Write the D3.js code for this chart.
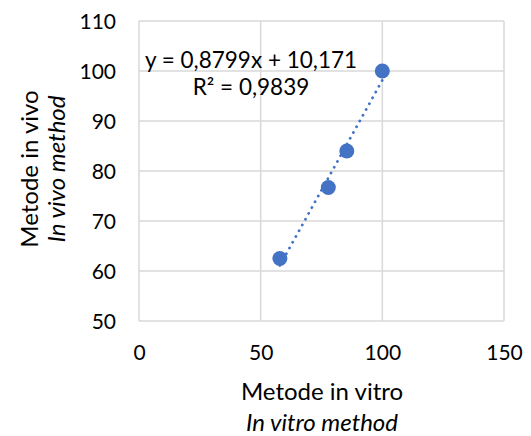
<!DOCTYPE html>
<html>
<head>
<meta charset="utf-8">
<script src="https://cdn.jsdelivr.net/npm/d3@7"></script>
<style>
    html, body { margin: 0; padding: 0; background: #fff; }
    svg text { font-family: Lato, "Open Sans", sans-serif; fill: #000; }
</style>
</head>
<body>
<svg id="chart" width="531" height="436"></svg>
<script>

// in vitro vs in vivo values
var inVitro = [57.9, 77.8, 85.4, 100];
var inVivo = [62.5, 76.7, 84, 100];

var xTicks = [0, 50, 100, 150];
var yTicks = [50, 60, 70, 80, 90, 100, 110];

var slope = 0.8799;
var intercept = 10.171;
var eqLines = ['y = 0,8799x + 10,171', 'R\u00b2 = 0,9839'];

var xTitle = ['Metode in vitro', 'In vitro method'];
var yTitle = ['Metode in vivo', 'In vivo method'];


(function () {

    var svg = d3.select('#chart');

    var left = 139, right = 504, top = 21, bottom = 321;

    var x = d3.scaleLinear().domain([0, 150]).range([left, right]);
    var y = d3.scaleLinear().domain([50, 110]).range([bottom, top]);

    var grid = svg.append('g');

    // vertical grid
    grid.selectAll('.vg')
        .data(xTicks)
        .enter()
        .append('line')
        .attr('x1', function (d) { return x(d); })
        .attr('x2', function (d) { return x(d); })
        .attr('y1', top)
        .attr('y2', bottom)
        .attr('stroke', '#d9d9d9')
        .attr('stroke-width', 1.5);

    // horizontal grid
    grid.selectAll('.hg')
        .data(yTicks)
        .enter()
        .append('line')
        .attr('x1', left)
        .attr('x2', right)
        .attr('y1', function (d) { return y(d); })
        .attr('y2', function (d) { return y(d); })
        .attr('stroke', '#d9d9d9')
        .attr('stroke-width', 1.5);

    // tick labels
    var xAxis = d3.axisBottom(x).tickValues(xTicks).tickSize(0).tickPadding(0);
    var gx = svg.append('g')
        .attr('transform', 'translate(0,' + 360 + ')')
        .call(xAxis);
    gx.select('.domain').remove();
    gx.selectAll('text')
        .attr('dy', 0)
        .attr('y', 0)
        .style('font-size', '21px')
        .style('font-family', 'Lato, sans-serif');

    var yAxis = d3.axisLeft(y).tickValues(yTicks).tickSize(0).tickPadding(0);
    var gy = svg.append('g')
        .attr('transform', 'translate(116,0)')
        .call(yAxis);
    gy.select('.domain').remove();
    gy.selectAll('text')
        .attr('dy', '0.35em')
        .style('font-size', '21px')
        .style('font-family', 'Lato, sans-serif');

    // trendline over the data range
    var x0 = d3.min(inVitro), x1 = d3.max(inVitro);
    svg.append('line')
        .attr('x1', x(x0))
        .attr('y1', y(slope * x0 + intercept))
        .attr('x2', x(x1))
        .attr('y2', y(slope * x1 + intercept))
        .attr('stroke', '#4472c4')
        .attr('stroke-width', 2.8)
        .attr('stroke-linecap', 'round')
        .attr('stroke-dasharray', '0.1 6.5');

    // points
    var pts = inVitro.map(function (v, i) { return [v, inVivo[i]]; });
    svg.selectAll('.pt')
        .data(pts)
        .enter()
        .append('circle')
        .attr('cx', function (d) { return x(d[0]); })
        .attr('cy', function (d) { return y(d[1]); })
        .attr('r', 7.5)
        .attr('fill', '#4472c4');

    // equation label
    svg.selectAll('.eq')
        .data(eqLines)
        .enter()
        .append('text')
        .attr('x', 251)
        .attr('y', function (d, i) { return 68 + i * 27; })
        .attr('text-anchor', 'middle')
        .style('font-size', '22.5px')
        .text(function (d) { return d; });

    // axis titles
    svg.selectAll('.xt')
        .data(xTitle)
        .enter()
        .append('text')
        .attr('x', 322)
        .attr('y', function (d, i) { return 400 + i * 31; })
        .attr('text-anchor', 'middle')
        .style('font-size', '24px')
        .style('font-style', function (d, i) { return i ? 'italic' : 'normal'; })
        .text(function (d) { return d; });

    svg.selectAll('.yt')
        .data(yTitle)
        .enter()
        .append('text')
        .attr('transform', function (d, i) {
            return 'translate(' + (38 + i * 27) + ',169) rotate(-90)';
        })
        .attr('text-anchor', 'middle')
        .style('font-size', '24px')
        .style('font-style', function (d, i) { return i ? 'italic' : 'normal'; })
        .text(function (d) { return d; });

})();
</script>
</body>
</html>
